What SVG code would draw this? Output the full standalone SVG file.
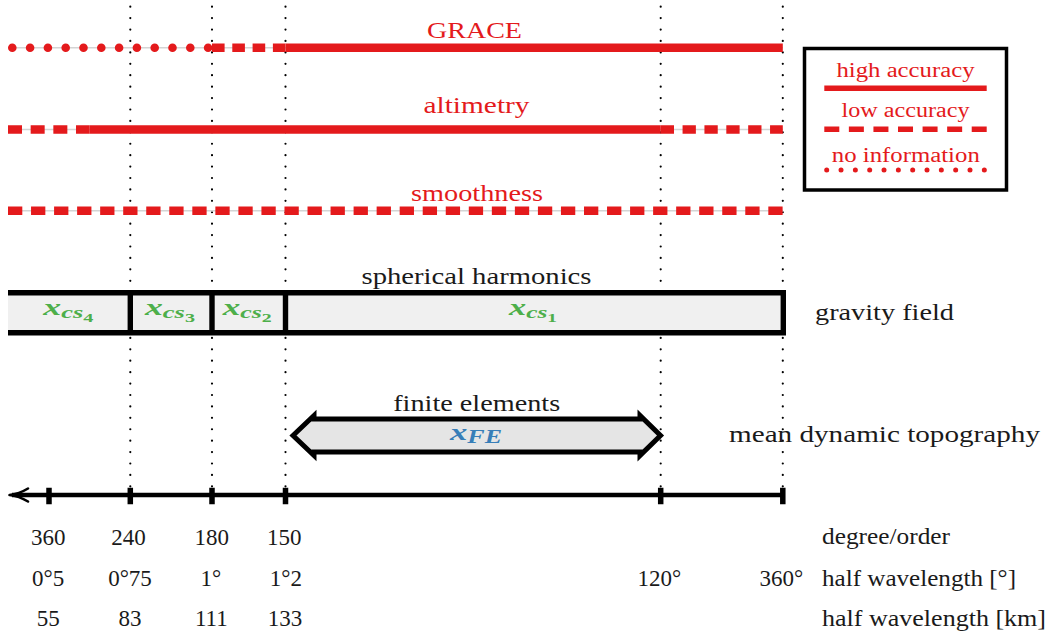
<svg xmlns="http://www.w3.org/2000/svg" width="1048" height="635" viewBox="0 0 1048 635">
<style>
.t{font-family:'Liberation Serif','Times New Roman',serif;}
.red{fill:#e41a1c;}
.blk{fill:#1a1a1a;}
.guide{stroke:#000;stroke-width:2.2;stroke-linecap:round;stroke-dasharray:0 11.42;fill:none;}
.under{stroke:#d4d4d4;stroke-width:1.6;fill:none;}
.rl{stroke:#e41a1c;stroke-width:8.6;fill:none;}
.bx{stroke:#000;stroke-width:5.4;fill:none;}
.math{font-family:'Liberation Serif','Times New Roman',serif;font-style:italic;font-weight:bold;}
.green{fill:#4daf4a;}
.blue{fill:#377eb8;}
</style>
<rect width="1048" height="635" fill="#fff"/>

<g id="guides">
<path class="guide" d="M130.3,6.7V487"/>
<path class="guide" d="M212,6.7V487"/>
<path class="guide" d="M285.5,6.7V487"/>
<path class="guide" d="M660.7,6.7V487"/>
<path class="guide" d="M782.8,6.7V487"/>
</g>

<g id="grace">
<path class="under" d="M8,47.8H783"/>
<path class="rl" d="M12.3,47.8H208.2" stroke-linecap="round" stroke-dasharray="0 17.8"/>
<path class="rl" d="M212,47.8H285.6" stroke-dasharray="12.6 7.7"/>
<path class="rl" d="M285.6,47.8H782.8"/>
<text class="t red" x="474.5" y="37.5" font-size="24" text-anchor="middle" textLength="95" lengthAdjust="spacingAndGlyphs">GRACE</text>
</g>

<g id="altimetry">
<path class="under" d="M8,129.5H783"/>
<path class="rl" d="M8,129.5H89.3" stroke-dasharray="14 8.67"/>
<path class="rl" d="M89.3,129.5H660.7"/>
<path class="rl" d="M660.7,129.5H782.8" stroke-dasharray="13.3 8.57"/>
<text class="t red" x="476.5" y="113" font-size="24" text-anchor="middle" textLength="106" lengthAdjust="spacingAndGlyphs">altimetry</text>
</g>

<g id="smoothness">
<path class="under" d="M8,210.8H783"/>
<path class="rl" d="M8,210.8H782.8" stroke-dasharray="14.3 8.74"/>
<text class="t red" x="477" y="200.5" font-size="24" text-anchor="middle" textLength="132" lengthAdjust="spacingAndGlyphs">smoothness</text>
</g>

<g id="legend">
<rect x="804.5" y="48.5" width="202" height="141.5" fill="#fff" stroke="#000" stroke-width="3.5"/>
<text class="t red" x="905.5" y="76.5" font-size="20" text-anchor="middle" textLength="138" lengthAdjust="spacingAndGlyphs">high accuracy</text>
<path d="M824.3,88.3H986.7" stroke="#e41a1c" stroke-width="5.5"/>
<text class="t red" x="905.5" y="117.3" font-size="20" text-anchor="middle" textLength="128" lengthAdjust="spacingAndGlyphs">low accuracy</text>
<path d="M824.3,129.3H986.7" stroke="#e41a1c" stroke-width="5.5" stroke-dasharray="15 9.57"/>
<text class="t red" x="905.8" y="161.5" font-size="20" text-anchor="middle" textLength="148" lengthAdjust="spacingAndGlyphs">no information</text>
<path d="M826.7,170H984.4" stroke="#e41a1c" stroke-width="5" stroke-linecap="round" stroke-dasharray="0 14.33"/>
</g>

<g id="spherical-harmonics">
<text class="t blk" x="476.5" y="284" font-size="23" text-anchor="middle" textLength="230" lengthAdjust="spacingAndGlyphs">spherical harmonics</text>
<g id="cs4">
<rect x="8" y="292.8" width="122.3" height="40" fill="#f0f0f0"/>
<text class="math green" x="68.3" y="315" font-size="23" text-anchor="middle" textLength="50" lengthAdjust="spacingAndGlyphs">x<tspan font-size="17" dy="3.3">cs</tspan><tspan font-size="13" dy="3.4" font-style="normal">4</tspan></text>
</g>
<g id="cs3">
<rect x="130.3" y="292.8" width="81.7" height="40" fill="#f0f0f0"/>
<text class="math green" x="170" y="315" font-size="23" text-anchor="middle" textLength="50" lengthAdjust="spacingAndGlyphs">x<tspan font-size="17" dy="3.3">cs</tspan><tspan font-size="13" dy="3.4" font-style="normal">3</tspan></text>
</g>
<g id="cs2">
<rect x="212" y="292.8" width="73.5" height="40" fill="#f0f0f0"/>
<text class="math green" x="247.2" y="315" font-size="23" text-anchor="middle" textLength="49" lengthAdjust="spacingAndGlyphs">x<tspan font-size="17" dy="3.3">cs</tspan><tspan font-size="13" dy="3.4" font-style="normal">2</tspan></text>
</g>
<g id="cs1">
<rect x="285.5" y="292.8" width="497.8" height="40" fill="#f0f0f0"/>
<text class="math green" x="533" y="315" font-size="23" text-anchor="middle" textLength="48" lengthAdjust="spacingAndGlyphs">x<tspan font-size="17" dy="3.3">cs</tspan><tspan font-size="13" dy="3.4" font-style="normal">1</tspan></text>
</g>
<path class="bx" d="M8,292.8H786M8,332.8H786M783.3,290.1V335.5M130.3,292.8V332.8M212,292.8V332.8M285.5,292.8V332.8"/>
<text class="t blk" x="815" y="319.5" font-size="23" textLength="139" lengthAdjust="spacingAndGlyphs">gravity field</text>
</g>

<g id="finite-elements">
<text class="t blk" x="476.7" y="411" font-size="23" text-anchor="middle" textLength="167" lengthAdjust="spacingAndGlyphs">finite elements</text>
<path d="M293,435.5L314,415.5V419H640V415.5L660.5,435.5L640,455.5V452H314V455.5Z" fill="#e5e5e5" stroke="#000" stroke-width="5"/>
<text class="math blue" x="476" y="440" font-size="24" text-anchor="middle" textLength="52" lengthAdjust="spacingAndGlyphs">x<tspan font-size="18" dy="3">FE</tspan></text>
<text class="t blk" x="729" y="441.5" font-size="23" textLength="311" lengthAdjust="spacingAndGlyphs">mean dynamic topography</text>
</g>

<g id="axis">
<path d="M12,495H782.8" stroke="#000" stroke-width="4.5" fill="none"/>
<path d="M28,488.5Q19,494 9.5,495Q19,496 28,501.5" stroke="#000" stroke-width="2.6" fill="none" stroke-linecap="round" stroke-linejoin="round"/>
<path d="M49,487.8V504.3M130.3,487.8V504.3M212,487.8V504.3M285.5,487.8V504.3M660.7,487.8V504.3M782.8,487.8V504.3" stroke="#000" stroke-width="5.5"/>
</g>

<g id="scale-labels" class="t blk" font-size="23" text-anchor="middle">
<text x="48.3" y="545">360</text>
<text x="128.5" y="545">240</text>
<text x="211.8" y="545">180</text>
<text x="284.2" y="545">150</text>
<text x="48.2" y="586">0°5</text>
<text x="130" y="586">0°75</text>
<text x="210.8" y="586">1°</text>
<text x="285.8" y="586">1°2</text>
<text x="659.3" y="586">120°</text>
<text x="781.3" y="586">360°</text>
<text x="48.3" y="626">55</text>
<text x="130" y="626">83</text>
<text x="211.3" y="626">111</text>
<text x="285" y="626">133</text>
<text x="822" y="544" text-anchor="start" textLength="128" lengthAdjust="spacingAndGlyphs">degree/order</text>
<text x="822" y="586" text-anchor="start" textLength="194" lengthAdjust="spacingAndGlyphs">half wavelength [°]</text>
<text x="822" y="626" text-anchor="start" textLength="224" lengthAdjust="spacingAndGlyphs">half wavelength [km]</text>
</g>
</svg>
